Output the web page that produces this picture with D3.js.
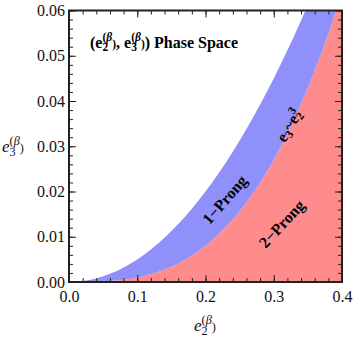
<!DOCTYPE html>
<html>
<head>
<meta charset="utf-8">
<script src="https://cdn.jsdelivr.net/npm/d3@7"></script>
<style>
  body { margin: 0; background: #fff; }
  svg { display: block; }
  svg text { font-family: "Liberation Serif", "Times New Roman", Times, serif; }
</style>
</head>
<body>
<div id="chart"></div>
<script>
// e2 sample points
const e2Values = [0, 0.02, 0.04, 0.06, 0.08, 0.10, 0.12, 0.14, 0.16, 0.18, 0.20,
                  0.22, 0.24, 0.26, 0.28, 0.30, 0.32, 0.34, 0.36, 0.38, 0.40];
// upper edge of the 1-prong (blue) band
const upperE3 = [0, 0.0002, 0.0008, 0.0018, 0.0032, 0.0050, 0.0072, 0.0098, 0.0128, 0.0162, 0.0200,
                 0.0242, 0.0288, 0.0338, 0.0392, 0.0450, 0.0512, 0.0578, 0.0648, 0.0722, 0.0800];
// e3 ~ e2^3 edge (top of the 2-prong red region)
const lowerE3 = [0, 0.00001, 0.00006, 0.00022, 0.00051, 0.0010, 0.00173, 0.00274, 0.0041, 0.00583, 0.0080,
                 0.01065, 0.01382, 0.01758, 0.02195, 0.0270, 0.03277, 0.0393, 0.04666, 0.05487, 0.0640];

const xTicks = [0, 0.1, 0.2, 0.3, 0.4];
const yTicks = [0, 0.01, 0.02, 0.03, 0.04, 0.05, 0.06];

var margin = { top: 10.5, right: 12, bottom: 58, left: 69 },
    W = 354, H = 340,
    width = W - margin.left - margin.right,
    height = H - margin.top - margin.bottom;

var svg = d3.select("#chart").append("svg").attr("width", W).attr("height", H);
var g = svg.append("g").attr("transform", "translate(" + margin.left + "," + margin.top + ")");

var x = d3.scaleLinear().domain([0, 0.4]).range([0, width]);
var y = d3.scaleLinear().domain([0, 0.06]).range([height, 0]);

svg.append("defs").append("clipPath").attr("id", "clip")
    .append("rect").attr("width", width).attr("height", height);

var plot = g.append("g").attr("clip-path", "url(#clip)");

// red: everything under e2^3 (and right of the curve up to the frame)
plot.append("path")
    .datum(e2Values.map((d, i) => [d, lowerE3[i]]))
    .attr("fill", "#ff8c8c")
    .attr("d", d3.area().x(d => x(d[0])).y0(y(0)).y1(d => y(d[1])).curve(d3.curveMonotoneX));

// blue band between the two edges
plot.append("path")
    .datum(e2Values.map((d, i) => [d, upperE3[i], lowerE3[i]]))
    .attr("fill", "#9090fa")
    .attr("d", d3.area().x(d => x(d[0])).y0(d => y(d[2])).y1(d => y(d[1])).curve(d3.curveMonotoneX));

// axes: ticks pointing inward, minor ticks
var minorX = d3.range(0, 0.4001, 0.02);
var minorY = d3.range(0, 0.0601, 0.002);
var axisColor = "#222";

function drawAxis(axis, tr) {
  var a = g.append("g").attr("transform", tr).call(axis);
  a.select(".domain").remove();
  a.attr("font-family", null);
  a.selectAll("line").attr("stroke", axisColor).attr("stroke-width", 1);
  return a;
}

// bottom
var bx = drawAxis(d3.axisBottom(x).tickValues(xTicks).tickSize(-7).tickPadding(8).tickFormat(d3.format(".1f")),
  "translate(0," + height + ")");
drawAxis(d3.axisBottom(x).tickValues(minorX).tickSize(-4).tickFormat(""), "translate(0," + height + ")");
// top
drawAxis(d3.axisTop(x).tickValues(xTicks).tickSize(-7).tickFormat(""), "translate(0,0)");
drawAxis(d3.axisTop(x).tickValues(minorX).tickSize(-4).tickFormat(""), "translate(0,0)");
// left
var ly = drawAxis(d3.axisLeft(y).tickValues(yTicks).tickSize(-7).tickPadding(4).tickFormat(d3.format(".2f")),
  "translate(0,0)");
drawAxis(d3.axisLeft(y).tickValues(minorY).tickSize(-4).tickFormat(""), "translate(0,0)");
// right
drawAxis(d3.axisRight(y).tickValues(yTicks).tickSize(-7).tickFormat(""), "translate(" + width + ",0)");
drawAxis(d3.axisRight(y).tickValues(minorY).tickSize(-4).tickFormat(""), "translate(" + width + ",0)");

g.selectAll(".tick text").attr("font-size", 16).attr("fill", "#111");
bx.selectAll(".tick text").attr("dy", "0.75em");

// frame
g.append("rect").attr("width", width).attr("height", height)
    .attr("fill", "none").attr("stroke", axisColor).attr("stroke-width", 2);

// helper for e_n^(beta) strings
function eLabel(sel, sub, bold) {
  sel.append("tspan").text("e").attr("font-style", bold ? null : "italic");
  sel.append("tspan").text(sub).attr("font-size", "0.72em").attr("dy", "0.3em");
  sel.append("tspan").text("(").attr("font-size", "0.72em").attr("dx", "-0.5em").attr("dy", "-0.85em");
  sel.append("tspan").text("β").attr("font-size", "0.72em").attr("font-style", "italic");
  sel.append("tspan").text(")").attr("font-size", "0.72em").attr("dy", "0.55em");
  return sel;
}

// title
var t = g.append("text").attr("x", 21).attr("y", 37).attr("font-size", 16).attr("font-weight", "bold").attr("fill", "#000");
t.append("tspan").text("(");
eLabel(t, "2", true);
t.append("tspan").text(", ");
eLabel(t, "3", true);
t.append("tspan").text(") Phase Space");

// axis labels
var xl = svg.append("text").attr("x", 194).attr("y", 331).attr("font-size", 17).attr("fill", "#111");
eLabel(xl, "2", false);
var yl = svg.append("text").attr("x", 2).attr("y", 152).attr("font-size", 17).attr("fill", "#111");
eLabel(yl, "3", false);

// region labels
function rotLabel(txt, cx, cy, ang, size) {
  return svg.append("text")
    .attr("transform", "translate(" + cx + "," + cy + ") rotate(" + ang + ")")
    .attr("text-anchor", "middle").attr("dominant-baseline", "middle")
    .attr("font-size", size).attr("font-weight", "bold").attr("fill", "#000")
    .text(txt);
}
rotLabel("1\u2212Prong", 226, 201, -49, 16);
rotLabel("2\u2212Prong", 283, 225, -47, 16);

var lab = svg.append("text")
    .attr("transform", "translate(291,127) rotate(-56)")
    .attr("text-anchor", "middle").attr("dominant-baseline", "middle")
    .attr("font-size", 16).attr("font-weight", "bold").attr("fill", "#000");
lab.append("tspan").text("e");
lab.append("tspan").text("3").attr("font-size", "0.72em").attr("dy", "0.3em");
lab.append("tspan").text("~e").attr("dy", "-0.3em");
lab.append("tspan").text("2").attr("font-size", "0.72em").attr("dy", "0.3em");
lab.append("tspan").text("3").attr("font-size", "0.72em").attr("dx", "-0.5em").attr("dy", "-0.85em");
</script>
</body>
</html>
